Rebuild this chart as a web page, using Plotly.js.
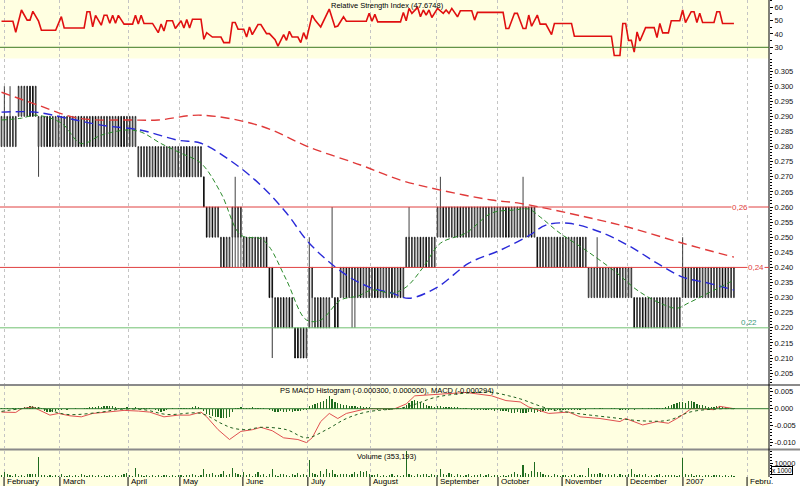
<!DOCTYPE html>
<html><head><meta charset="utf-8">
<script src="https://cdn.plot.ly/plotly-3.0.1.min.js"></script>
<style>html,body{margin:0;padding:0;background:#fff}#chart{width:800px;height:486px}</style>
</head><body><div id="chart"></div>
<script>
// ---- month ticks (trading-day index of month start) ----
const monthPos = [0.9, 20.5, 44.4, 62.6, 84.7, 107.5, 129.3, 152.8, 174.2, 196.7, 219.5, 239.1, 261.6];
const monthNames = ['February','March','April','May','June','July','August','September','October','November','December','2007','Febru.'];

// ---- daily OHLC (258 trading days) ----
const open = [
 .28,.28,.28,.28,.28,.28,.29,.29,.29,.29,
 .30,.30,.29,.28,.28,.28,.29,.29,.28,.28,
 .28,.28,.28,.28,.28,.28,.28,.29,.29,.28,
 .28,.28,.29,.29,.28,.28,.28,.28,.28,.28,
 .28,.29,.29,.29,.28,.28,.28,.28,.27,.27,
 .27,.27,.27,.27,.28,.27,.27,.27,.27,.27,
 .27,.27,.27,.27,.27,.28,.28,.27,.27,.27,
 .27,.27,.26,.25,.26,.25,.25,.24,.25,.24,
 .24,.25,.25,.25,.25,.24,.25,.24,.24,.24,
 .24,.24,.24,.25,.24,.24,.22,.23,.22,.23,
 .22,.23,.22,.22,.22,.21,.22,.21,.22,.23,
 .22,.22,.23,.22,.22,.22,.23,.23,.23,.23,
 .23,.24,.23,.23,.23,.23,.24,.23,.23,.23,
 .23,.24,.24,.23,.23,.23,.23,.24,.23,.23,
 .24,.23,.24,.24,.24,.24,.24,.25,.24,.25,
 .24,.24,.24,.25,.25,.26,.25,.25,.25,.25,
 .26,.26,.25,.25,.25,.25,.25,.25,.25,.25,
 .25,.25,.25,.25,.25,.25,.25,.26,.26,.25,
 .25,.25,.25,.25,.25,.25,.26,.25,.25,.24,
 .24,.24,.24,.24,.24,.25,.24,.24,.24,.24,
 .24,.24,.24,.25,.24,.24,.23,.23,.23,.23,
 .23,.23,.23,.23,.23,.23,.24,.23,.23,.23,
 .23,.23,.23,.22,.22,.23,.23,.22,.22,.22,
 .22,.22,.23,.22,.22,.22,.22,.22,.22,.23,
 .24,.23,.23,.23,.24,.23,.23,.23,.23,.23,
 .23,.23,.23,.24,.24,.23,.23,.23];
const high = [
 .29,.30,.29,.30,.29,.29,.30,.30,.30,.30,
 .30,.30,.30,.29,.29,.29,.29,.29,.29,.29,
 .29,.29,.29,.29,.29,.29,.29,.29,.29,.29,
 .29,.29,.29,.29,.29,.29,.29,.29,.29,.29,
 .29,.29,.29,.29,.29,.29,.29,.29,.28,.28,
 .28,.28,.28,.28,.28,.28,.28,.28,.28,.28,
 .28,.28,.28,.28,.28,.28,.28,.28,.28,.28,
 .28,.27,.26,.26,.26,.26,.26,.25,.25,.25,
 .25,.26,.27,.26,.26,.25,.25,.25,.25,.25,
 .25,.25,.25,.25,.24,.24,.23,.23,.23,.23,
 .23,.23,.23,.22,.22,.22,.22,.22,.25,.24,
 .23,.23,.23,.23,.23,.23,.26,.23,.23,.24,
 .24,.24,.24,.24,.24,.24,.24,.24,.24,.24,
 .24,.24,.24,.24,.24,.24,.24,.24,.24,.24,
 .24,.24,.25,.26,.25,.25,.25,.25,.25,.25,
 .25,.25,.25,.26,.27,.26,.26,.26,.26,.26,
 .26,.26,.26,.26,.26,.26,.26,.26,.26,.26,
 .26,.26,.26,.26,.26,.26,.26,.26,.26,.26,
 .26,.26,.26,.27,.26,.26,.26,.26,.25,.25,
 .25,.25,.25,.25,.25,.25,.25,.25,.25,.25,
 .25,.25,.25,.25,.25,.25,.24,.24,.24,.25,
 .24,.24,.24,.24,.24,.24,.24,.24,.24,.24,
 .24,.24,.23,.23,.23,.23,.23,.23,.23,.23,
 .23,.23,.23,.23,.23,.23,.23,.23,.23,.25,
 .24,.24,.24,.24,.24,.24,.24,.24,.24,.24,
 .24,.24,.24,.24,.24,.24,.24,.24];
const low = [
 .28,.28,.28,.28,.28,.28,.29,.29,.29,.29,
 .29,.29,.29,.27,.28,.28,.28,.28,.28,.28,
 .28,.28,.28,.28,.28,.28,.28,.28,.28,.28,
 .28,.28,.28,.28,.28,.28,.28,.28,.28,.28,
 .28,.28,.28,.28,.28,.28,.28,.28,.27,.27,
 .27,.27,.27,.27,.27,.27,.27,.27,.27,.27,
 .27,.27,.27,.27,.27,.27,.27,.27,.27,.27,
 .27,.26,.25,.25,.25,.25,.25,.24,.24,.24,
 .24,.24,.24,.24,.24,.24,.24,.24,.24,.24,
 .24,.24,.24,.24,.23,.21,.22,.22,.22,.22,
 .22,.22,.22,.21,.21,.21,.21,.21,.22,.22,
 .22,.22,.22,.22,.22,.22,.23,.22,.22,.23,
 .23,.23,.23,.22,.22,.23,.23,.23,.23,.23,
 .23,.23,.23,.23,.23,.23,.23,.23,.23,.23,
 .23,.23,.24,.24,.24,.24,.24,.24,.24,.24,
 .24,.24,.24,.25,.25,.25,.25,.25,.25,.25,
 .25,.25,.25,.25,.25,.25,.25,.25,.25,.25,
 .25,.25,.25,.25,.25,.25,.25,.25,.25,.25,
 .25,.25,.25,.25,.25,.25,.25,.25,.24,.24,
 .24,.24,.24,.24,.24,.24,.24,.24,.24,.24,
 .24,.24,.24,.24,.24,.24,.23,.23,.23,.23,
 .23,.23,.23,.23,.23,.23,.23,.23,.23,.23,
 .23,.23,.22,.22,.22,.22,.22,.22,.22,.22,
 .22,.22,.22,.22,.22,.22,.22,.22,.22,.23,
 .23,.23,.23,.23,.23,.23,.23,.23,.23,.23,
 .23,.23,.23,.23,.23,.23,.23,.23];
const close = [
 .29,.29,.29,.29,.29,.29,.30,.30,.30,.30,
 .29,.29,.30,.29,.29,.29,.28,.28,.29,.29,
 .29,.29,.29,.29,.29,.29,.29,.28,.28,.29,
 .29,.29,.28,.28,.29,.29,.29,.29,.29,.29,
 .29,.28,.28,.28,.29,.29,.29,.29,.28,.28,
 .28,.28,.28,.28,.27,.28,.28,.28,.28,.28,
 .28,.28,.28,.28,.28,.27,.27,.28,.28,.28,
 .28,.26,.25,.26,.25,.26,.26,.25,.24,.25,
 .25,.26,.26,.26,.26,.25,.24,.25,.25,.25,
 .25,.25,.25,.24,.23,.23,.23,.22,.23,.22,
 .23,.22,.23,.21,.21,.22,.21,.22,.24,.24,
 .23,.23,.22,.23,.23,.23,.24,.22,.22,.24,
 .24,.23,.24,.24,.24,.24,.23,.24,.24,.24,
 .24,.23,.23,.24,.24,.24,.24,.23,.24,.24,
 .23,.24,.25,.25,.25,.25,.25,.24,.25,.24,
 .25,.25,.25,.26,.26,.25,.26,.26,.26,.26,
 .25,.25,.26,.26,.26,.26,.26,.26,.26,.26,
 .26,.26,.26,.26,.26,.26,.26,.25,.25,.26,
 .26,.26,.26,.26,.26,.26,.25,.26,.24,.25,
 .25,.25,.25,.25,.25,.24,.25,.25,.25,.25,
 .25,.25,.25,.24,.25,.25,.24,.24,.24,.24,
 .24,.24,.24,.24,.24,.24,.23,.24,.24,.24,
 .24,.24,.22,.23,.23,.22,.22,.23,.23,.23,
 .23,.23,.22,.23,.23,.23,.23,.23,.23,.24,
 .23,.24,.24,.24,.23,.24,.24,.24,.24,.24,
 .24,.24,.24,.23,.23,.24,.24,.24];

// ---- moving averages (day, value) ----
const maLongDay = [0, 12, 27, 46, 55, 70, 91, 108, 126, 140, 154, 172, 182, 205, 220, 239, 257];
const maLongVal = [0.298, 0.294, 0.2894, 0.2888, 0.2888, 0.2904, 0.2868, 0.2798, 0.2739, 0.2689, 0.2656, 0.2623, 0.2612, 0.2567, 0.2533, 0.2480, 0.2434];
const maMidDay = [0, 12, 23, 35, 49, 62, 70, 81, 91, 100, 108, 120, 129, 137, 143, 153, 164, 175, 185, 191, 199, 211, 221, 230, 239, 248, 257];
const maMidVal = [0.2914, 0.2914, 0.2894, 0.2871, 0.2854, 0.2821, 0.2811, 0.2749, 0.2672, 0.258, 0.248, 0.2381, 0.2335, 0.2315, 0.2298, 0.2335, 0.2414, 0.2457, 0.2505, 0.2540, 0.2546, 0.2514, 0.2467, 0.2414, 0.2368, 0.2348, 0.2325];
const maShortDay = [0, 7, 12, 21, 28, 35, 44, 49, 56, 63, 70, 77, 84, 91, 94, 100, 107, 112, 119, 125, 130, 137, 142, 148, 154, 163, 172, 180, 185, 189, 196, 205, 216, 223, 231, 237, 241, 248, 257];
const maShortVal = [0.2888, 0.2894, 0.2904, 0.2878, 0.281, 0.2838, 0.2855, 0.2848, 0.281, 0.2778, 0.2745, 0.2646, 0.2507, 0.2495, 0.2468, 0.2358, 0.2226, 0.2226, 0.2292, 0.2305, 0.2325, 0.2315, 0.2335, 0.2401, 0.2480, 0.2514, 0.258, 0.2590, 0.2593, 0.2567, 0.2513, 0.2457, 0.2381, 0.2325, 0.2282, 0.2265, 0.2282, 0.2315, 0.2358];

// ---- support / resistance levels ----
const levels = [0.26, 0.24, 0.22];
const levelLabels = ['0,26', '0,24', '0,22'];

// ---- RSI ----
const rsiDay = [0,4,5,7,9,10,11,13,14,19,21,22,29,30,31,32,33,35,36,37,38,39,40,41,43,46,47,48,49,50,53,55,56,57,58,60,61,63,64,65,66,67,70,71,72,74,77,78,80,81,82,83,85,86,87,88,90,91,93,94,96,97,99,100,101,102,104,105,106,107,109,110,112,115,117,118,120,121,128,129,130,131,132,140,141,142,143,144,146,147,148,149,150,151,153,155,156,157,158,160,161,165,166,167,176,177,178,180,181,183,184,185,186,188,189,191,193,194,200,201,214,215,217,218,219,220,221,222,223,224,226,229,230,231,232,234,235,238,239,240,242,243,244,245,246,250,251,252,253,257];
const rsiVal = [49.6,49.6,41.3,58,50.4,50.4,57,49.6,42.8,42.8,53,44.5,44.5,56.7,56.7,45.3,54,46.6,54,54,48,54,48,54,47.4,47.4,54,47.4,54,47.9,47.9,41,47.4,42.3,49.9,49.9,44.1,49.9,44.5,50.9,44.5,51,51,36,41,37.7,37.7,33.5,33.5,48.6,48.6,43.6,43.6,37.7,45.3,39.5,47.1,47.1,40.3,40.3,35.8,30.9,39.5,35.2,42,37.7,37.7,33.5,41,36,54.2,50.4,45.3,58.7,45.3,46,52.9,49.6,49.6,55.5,49.6,54.7,49.1,49.1,56.2,49.9,59.2,55.5,60,52.9,58,54.2,58,52.4,59.2,55.5,58,55.5,59.2,52.9,57.4,57.4,50.4,56.2,56.2,44.1,44.1,55.5,55.5,44.1,44.1,54.2,45.8,54.2,47.4,47.4,39.5,47.9,47.9,38.3,38.3,23.9,23.9,47.9,47.9,35.2,35.2,26.4,41.5,34.7,44.8,44.8,37.3,47.9,40.8,40.8,49.9,49.9,58,48.6,56.7,56.7,48.6,55.5,48.6,48.6,56.7,56.7,47.9,47.9];

// ---- MACD ----
const macdDay = [0,5,7,11,13,17,20,24,28,32,37,43,48,52,57,62,66,70,72,76,80,84,88,91,95,99,104,107,109,112,115,118,121,128,138,142,145,154,163,172,177,182,185,192,199,203,210,217,219,225,230,234,238,242,245,250,252,257];
const macdVal = [-0.0010,-0.0011,0.0000,0.0005,-0.0003,-0.0019,-0.0014,-0.0021,-0.0024,-0.0014,-0.0010,-0.0005,-0.0007,-0.0010,-0.0024,-0.0019,-0.0019,-0.0010,-0.0024,-0.0062,-0.0091,-0.0067,-0.0062,-0.0055,-0.0065,-0.0086,-0.0091,-0.0100,-0.0086,-0.0038,-0.0014,-0.0029,-0.0014,0.0000,0.0000,0.0014,0.0038,0.0043,0.0048,0.0038,0.0024,0.0020,0.0005,-0.0014,-0.0010,-0.0024,-0.0029,-0.0038,-0.0029,-0.0048,-0.0038,-0.0043,-0.0024,0.0000,0.0000,-0.0003,0.0007,0.0000];
const signalDay = [0,13,23,35,41,50,58,70,77,81,86,91,100,107,114,121,128,142,152,163,172,178,182,192,202,214,225,234,242,253,257];
const signalVal = [-0.0008,0.0002,-0.0017,-0.0010,-0.0002,-0.0003,-0.0017,-0.0014,-0.0043,-0.0057,-0.0062,-0.0055,-0.0062,-0.0086,-0.0062,-0.0029,-0.0010,0.0005,0.0033,0.0046,0.0048,0.0038,0.0029,0.0000,-0.0014,-0.0026,-0.0036,-0.0034,-0.0009,0.0000,0.0000];
const macdHist = [
 0.0001,0.0001,0.0001,-0.0001,0.0001,0.0001,0.0002,0.0003,0.0005,0.0006,
 0.0008,0.0007,0.0006,0.0004,0.0001,-0.0006,-0.0009,-0.0011,-0.0010,-0.0008,
 -0.0005,-0.0003,-0.0002,-0.0003,-0.0002,-0.0001,0.0001,-0.0002,-0.0002,0.0001,
 0.0002,0.0004,0.0006,0.0005,0.0007,0.0006,0.0008,0.0007,0.0009,0.0007,
 0.0005,0.0003,0.0002,0.0003,0.0004,0.0002,0.0003,0.0005,0.0002,0.0003,
 0.0002,0.0001,0.0002,-0.0002,-0.0005,-0.0008,-0.0009,-0.0007,-0.0005,-0.0002,
 0.0001,-0.0002,0.0002,0.0001,0.0002,0.0003,0.0002,0.0005,0.0007,0.0006,
 0.0003,-0.0008,-0.0015,-0.0019,-0.0022,-0.0024,-0.0025,-0.0026,-0.0028,-0.0027,
 -0.0025,-0.0010,0.0002,0.0003,0.0004,0.0002,0.0001,0.0003,0.0004,0.0002,
 0.0003,0.0001,0.0001,-0.0002,-0.0005,-0.0008,-0.0009,-0.0010,-0.0008,-0.0009,
 -0.0010,-0.0008,-0.0009,-0.0007,-0.0008,-0.0006,-0.0005,-0.0003,0.0008,0.0012,
 0.0015,0.0016,0.0020,0.0024,0.0029,0.0038,0.0030,0.0020,0.0017,0.0015,
 0.0012,0.0010,0.0008,0.0009,0.0007,0.0006,0.0008,0.0006,0.0005,0.0004,
 0.0002,-0.0002,-0.0003,-0.0002,-0.0003,-0.0002,-0.0003,-0.0002,-0.0001,0.0001,
 0.0003,0.0006,0.0012,0.0018,0.0022,0.0025,0.0024,0.0020,0.0016,0.0012,
 0.0009,0.0008,0.0006,0.0007,0.0008,0.0006,0.0005,0.0004,0.0006,0.0005,
 0.0004,0.0003,0.0003,0.0002,-0.0002,-0.0003,-0.0004,-0.0003,-0.0004,-0.0003,
 -0.0004,-0.0005,-0.0004,-0.0006,-0.0005,-0.0007,-0.0006,-0.0008,-0.0010,-0.0012,
 -0.0013,-0.0011,-0.0014,-0.0012,-0.0013,-0.0011,-0.0010,-0.0012,-0.0009,-0.0010,
 -0.0008,-0.0007,-0.0006,-0.0005,-0.0006,-0.0005,-0.0004,-0.0005,-0.0004,-0.0005,
 -0.0004,-0.0003,-0.0004,-0.0003,-0.0002,-0.0003,-0.0002,-0.0001,0.0001,-0.0002,
 0.0002,0.0001,-0.0002,-0.0001,0.0001,0.0002,-0.0002,-0.0003,-0.0004,-0.0003,
 -0.0004,-0.0002,-0.0003,-0.0002,-0.0001,0.0001,-0.0002,0.0001,0.0002,0.0001,
 0.0002,0.0003,0.0002,0.0004,0.0008,0.0011,0.0014,0.0017,0.0019,0.0020,
 0.0018,0.0022,0.0024,0.0019,0.0015,0.0012,0.0010,0.0008,0.0006,0.0004,
 0.0005,0.0008,0.0007,0.0006,0.0004,0.0003,0.0003,0.0002];

// ---- volume ----
const volume = [
 1500,3500,2500,1200,900,2000,800,1500,900,2000,
 2200,1800,2500,14300,1500,1200,800,1300,700,1600,
 900,1800,700,600,1200,900,1400,700,1800,1100,
 900,1500,1200,700,1600,1000,1300,800,1500,700,
 1200,1000,1400,2000,3000,1200,1000,6500,2500,1500,
 800,1400,700,1300,900,1600,800,1100,1500,700,
 1200,900,1600,1100,800,1400,1300,2500,1200,800,
 1500,6000,2500,1800,3000,1200,1500,2500,4000,1500,
 2000,6500,3000,2500,1200,3500,1500,2500,1000,2000,
 3500,1500,2500,1000,2000,5500,1500,1000,1800,2500,
 1200,800,2000,1500,3000,1200,2500,1500,12100,3000,
 2500,1500,4500,1800,5500,3000,5000,2000,1500,2500,
 1800,2200,1300,2500,3500,2000,4500,3500,4000,2500,
 1500,1200,2000,1000,1500,900,1200,2000,800,1500,
 1000,1300,19300,2500,1500,1000,2000,1200,2500,1800,
 1000,2500,1500,1200,5500,2500,1200,3000,1800,1000,
 2000,1500,800,1300,2000,900,1500,1100,1800,700,
 1400,2000,900,1500,1200,800,1600,1000,1400,1800,
 3500,2500,1500,8500,3000,2000,4000,10700,3500,3800,
 2000,1200,1500,900,1800,1100,700,1300,1600,900,
 1200,2000,800,1400,1700,1000,6500,2000,2500,1800,
 3000,2200,1500,2000,1200,1800,1000,2500,1500,1200,
 2000,6000,2500,1500,2000,1200,1800,1000,1500,900,
 1200,1800,800,1500,1100,1300,1600,1000,1200,13600,
 2000,1500,1800,1000,1500,1300,900,1600,1200,800,
 1400,1100,1700,900,1300,1000,1500,800];

// ---- axis tick labels ----
const priceTicks = [0.205,0.210,0.215,0.220,0.225,0.230,0.235,0.240,0.245,0.250,0.255,0.260,0.265,0.270,0.275,0.280,0.285,0.290,0.295,0.300,0.305];
const priceTickText = ['0.205','0.210','0.215','0.220','0.225','0.230','0.235','0.240','0.245','0.250','0.255','0.260','0.265','0.270','0.275','0.280','0.285','0.290','0.295','0.300','0.305'];
const rsiTicks = [30, 40, 50, 60];
const macdTicks = [-0.010, -0.005, 0, 0.005];
const macdTickText = ['-0.010', '-0.005', '0.000', '0.005'];
const volTicks = [10000];
const volTickText = ['10000'];

const lens = [open.length, high.length, low.length, close.length, macdHist.length, volume.length, rsiDay.length - rsiVal.length, macdDay.length - macdVal.length, signalDay.length - signalVal.length, maShortDay.length - maShortVal.length, maMidDay.length - maMidVal.length, maLongDay.length - maLongVal.length];
if (lens.slice(0,6).some(v => v !== 258) || lens.slice(6).some(v => v !== 0)) throw new Error('length mismatch ' + lens.join(','));

const day = open.map((_, i) => i);

// ---- geometry (px) ----
const PH = 477, PW = 769;
const py = p => (PH - p) / PH; // pixel row -> paper y
const FONT = 'Liberation Sans, Arial, sans-serif';
const YEL = '#ffffe1';

const traces = [
  {type:'scatter', mode:'lines', x: rsiDay, y: rsiVal, xaxis:'x', yaxis:'y', line:{color:'#e01010', width:1.6}, hoverinfo:'skip'},
  {type:'candlestick', x: day, open: open, high: high, low: low, close: close, xaxis:'x', yaxis:'y2',
   increasing:{line:{color:'#111', width:0.8}, fillcolor:'#ffffff'},
   decreasing:{line:{color:'#000', width:0.8}, fillcolor:'#000000'}, whiskerwidth:0, hoverinfo:'skip'},
  {type:'scatter', mode:'lines', x: maLongDay, y: maLongVal, xaxis:'x', yaxis:'y2', line:{color:'#e03a3a', width:1.4, dash:'9px,5px', shape:'spline'}, hoverinfo:'skip'},
  {type:'scatter', mode:'lines', x: maMidDay, y: maMidVal, xaxis:'x', yaxis:'y2', line:{color:'#2a2ad8', width:1.4, dash:'9px,5px', shape:'spline'}, hoverinfo:'skip'},
  {type:'scatter', mode:'lines', x: maShortDay, y: maShortVal, xaxis:'x', yaxis:'y2', line:{color:'#2a8a2a', width:1, dash:'5px,3px', shape:'spline'}, hoverinfo:'skip'},
  {type:'bar', x: day, y: macdHist, xaxis:'x', yaxis:'y3', width:0.45, marker:{color:'#1f6b1f', line:{width:0}}, hoverinfo:'skip'},
  {type:'scatter', mode:'lines', x: macdDay, y: macdVal, xaxis:'x', yaxis:'y3', line:{color:'#e05050', width:1}, hoverinfo:'skip'},
  {type:'scatter', mode:'lines', x: signalDay, y: signalVal, xaxis:'x', yaxis:'y3', line:{color:'#1f5f1f', width:1, dash:'3px,3px', shape:'spline'}, hoverinfo:'skip'},
  {type:'bar', x: day, y: volume, xaxis:'x', yaxis:'y4', width:0.4, marker:{color:'#1f6b1f', line:{width:0}}, hoverinfo:'skip'}
];

const yBase = {side:'right', anchor:'x', showgrid:false, zeroline:false, showline:false,
  ticks:'outside', ticklen:3, tickcolor:'#000', tickwidth:1,
  tickfont:{family:FONT, size:7.5, color:'#111'}, fixedrange:true};

const shapes = [];
// panel backgrounds
shapes.push({type:'rect', xref:'paper', yref:'paper', x0:0, x1:1, y0:py(58.5), y1:1, fillcolor:YEL, line:{width:0}, layer:'below'});
shapes.push({type:'rect', xref:'paper', yref:'paper', x0:0, x1:1, y0:py(449.5), y1:py(385), fillcolor:YEL, line:{width:0}, layer:'below'});
shapes.push({type:'rect', xref:'paper', yref:'paper', x0:0, x1:1, y0:py(486), y1:py(449.5), fillcolor:YEL, line:{width:0}, layer:'below'});
// separators
[385, 449.5].forEach(p => shapes.push({type:'line', xref:'paper', yref:'paper', x0:0, x1:800/PW, y0:py(p), y1:py(p), line:{color:'#8a8a8a', width:2}}));
// right axis line
shapes.push({type:'line', xref:'paper', yref:'paper', x0:1, x1:1, y0:py(477), y1:1, line:{color:'#000', width:1}});
// RSI 30 line
shapes.push({type:'line', xref:'paper', yref:'y', x0:0, x1:1, y0:30, y1:30, line:{color:'#3d7a22', width:1}});
// MACD zero line
shapes.push({type:'line', xref:'paper', yref:'y3', x0:0, x1:1, y0:0, y1:0, line:{color:'#2f7a2f', width:1}});
// support/resistance
shapes.push({type:'line', xref:'paper', yref:'y2', x0:0, x1:1, y0:levels[0], y1:levels[0], line:{color:'#e04040', width:1}});
shapes.push({type:'line', xref:'paper', yref:'y2', x0:0, x1:1, y0:levels[1], y1:levels[1], line:{color:'#e04040', width:1}});
shapes.push({type:'line', xref:'paper', yref:'y2', x0:0, x1:1, y0:levels[2], y1:levels[2], line:{color:'#70c070', width:1}});
// month tick marks under the volume panel
monthPos.forEach(m => shapes.push({type:'line', xref:'x', yref:'paper', x0:m, x1:m, y0:py(477), y1:py(486), line:{color:'#000', width:1}}));

const annotations = [
  {xref:'paper', yref:'paper', x:329/PW, y:py(6), xanchor:'left', yanchor:'middle', showarrow:false, text:'Relative Strength Index (47.6748)', font:{family:FONT, size:7.5, color:'#000'}},
  {xref:'paper', yref:'paper', x:278/PW, y:py(390), xanchor:'left', yanchor:'middle', showarrow:false, text:'PS MACD Histogram (-0.000300, 0.000000), MACD (-0.000294)', font:{family:FONT, size:7.5, color:'#000'}},
  {xref:'paper', yref:'paper', x:355/PW, y:py(456), xanchor:'left', yanchor:'middle', showarrow:false, text:'Volume (353,193)', font:{family:FONT, size:7.5, color:'#000'}},
  {xref:'x', yref:'y2', x:259, y:levels[0], xanchor:'center', yanchor:'middle', showarrow:false, text:levelLabels[0], bgcolor:'#ffffff', borderpad:0, font:{family:FONT, size:8, color:'#e04040'}},
  {xref:'x', yref:'y2', x:264.8, y:levels[1], xanchor:'center', yanchor:'middle', showarrow:false, text:levelLabels[1], bgcolor:'#ffffff', borderpad:0, font:{family:FONT, size:8, color:'#e04040'}},
  {xref:'x', yref:'y2', x:262.3, y:levels[2], xanchor:'center', yanchor:'bottom', showarrow:false, text:levelLabels[2], borderpad:0, font:{family:FONT, size:8, color:'#3a9a7a'}},
  {xref:'paper', yref:'paper', x:771/PW, y:py(470), xanchor:'left', yanchor:'middle', showarrow:false, text:'x 1000', bordercolor:'#000', borderwidth:1, borderpad:0, bgcolor:'#ffffff', font:{family:FONT, size:6.5, color:'#000'}}
];
monthPos.forEach((m, i) => annotations.push({xref:'x', yref:'paper', x:m, y:py(481.5), xanchor:'left', yanchor:'middle', xshift:1, showarrow:false, text:monthNames[i], font:{family:FONT, size:8, color:'#000'}}));

const layout = {
  width:800, height:486, margin:{l:0, r:31, t:0, b:9, pad:0},
  paper_bgcolor:'#ffffff', plot_bgcolor:'rgba(0,0,0,0)', showlegend:false, bargap:0, boxgap:0.65,
  xaxis:{range:[-0.526, 269.3], tickvals:monthPos, showticklabels:false, ticks:'', showgrid:true,
    gridcolor:'#c4c4c4', griddash:'dot', gridwidth:1, zeroline:false, showline:false,
    rangeslider:{visible:false}, fixedrange:true},
  yaxis: Object.assign({}, yBase, {domain:[py(58.5), 1], range:[21.6, 65.5], tickvals:rsiTicks,
    minor:{ticks:'outside', ticklen:2, dtick:5, tickcolor:'#000', showgrid:false}}),
  yaxis2: Object.assign({}, yBase, {domain:[py(384), py(59)], range:[0.2014, 0.3090], tickvals:priceTicks, ticktext:priceTickText,
    minor:{ticks:'outside', ticklen:2, dtick:0.001, tickcolor:'#000', showgrid:false}}),
  yaxis3: Object.assign({}, yBase, {domain:[py(448), py(386)], range:[-0.0116, 0.0067], tickvals:macdTicks, ticktext:macdTickText,
    minor:{ticks:'outside', ticklen:2, dtick:0.001, tickcolor:'#000', showgrid:false}}),
  yaxis4: Object.assign({}, yBase, {domain:[0, py(451)], range:[0, 18600], tickvals:volTicks, ticktext:volTickText,
    minor:{ticks:'outside', ticklen:2, dtick:2000, tickcolor:'#000', showgrid:false}}),
  shapes: shapes,
  annotations: annotations
};

Plotly.newPlot('chart', traces, layout, {displayModeBar:false, staticPlot:true});
</script></body></html>
